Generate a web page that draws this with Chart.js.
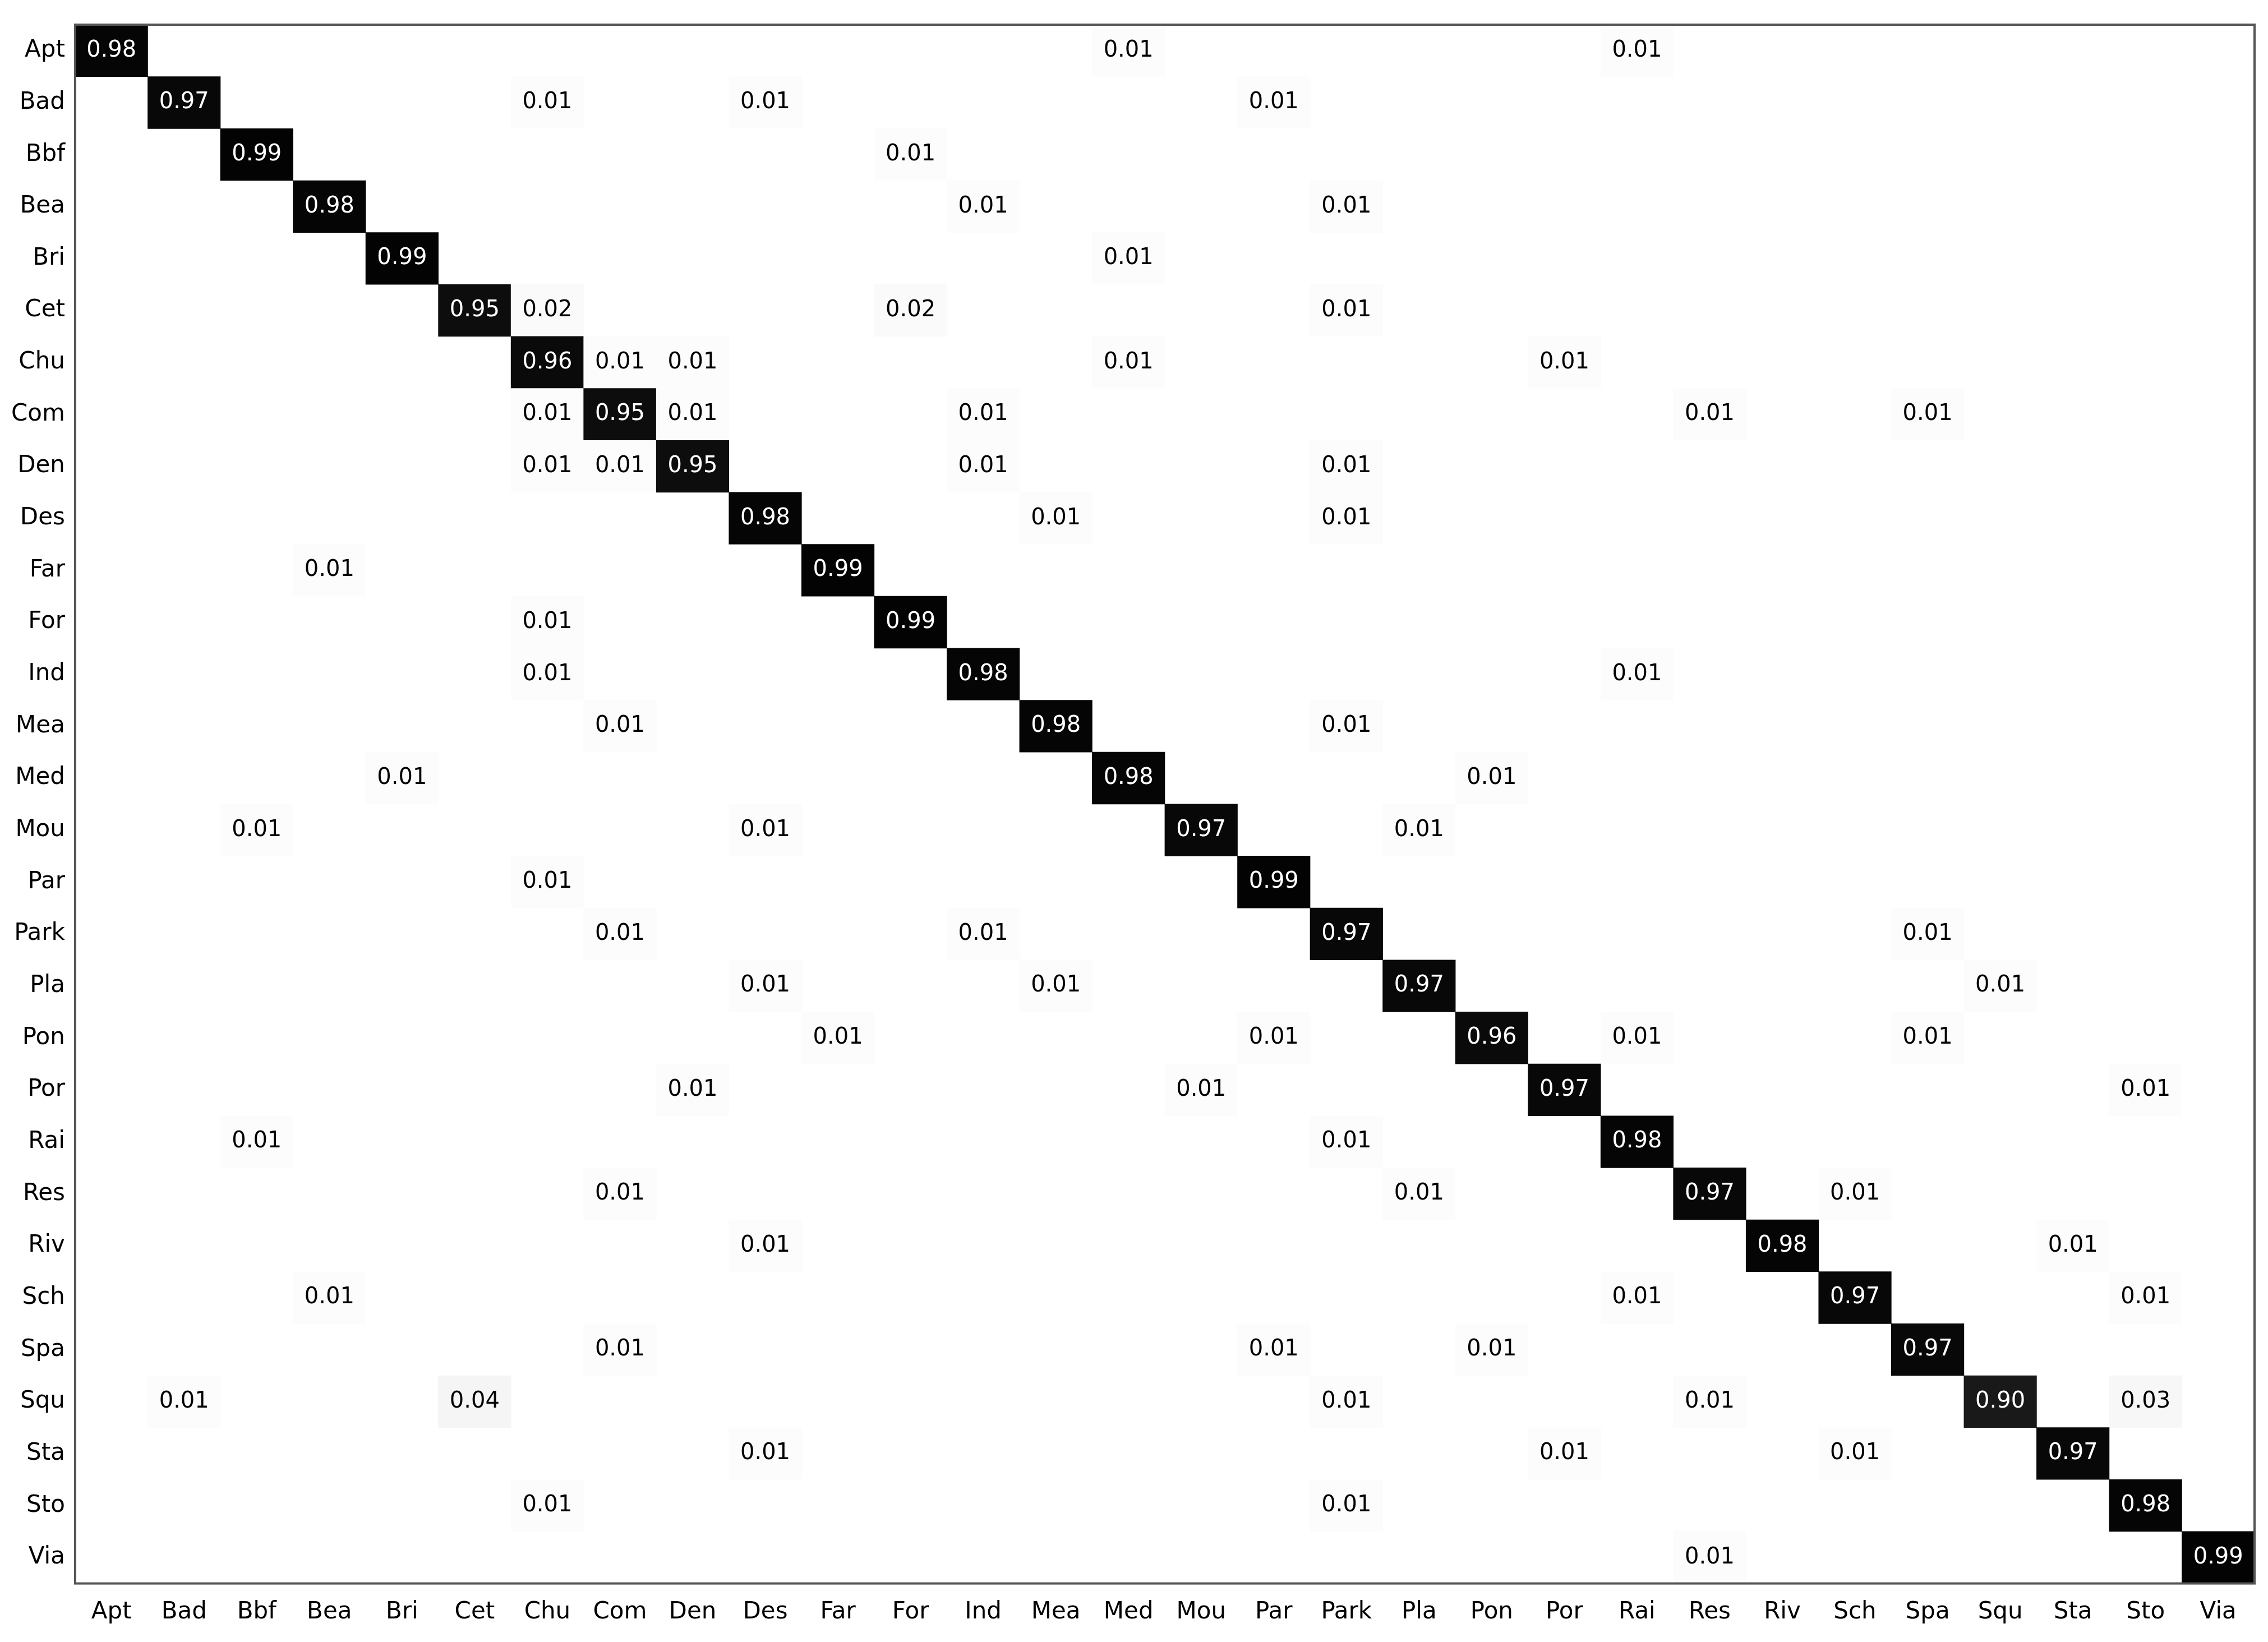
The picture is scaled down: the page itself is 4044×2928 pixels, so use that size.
<!DOCTYPE html>
<html><head><meta charset="utf-8">
<script src="https://cdn.jsdelivr.net/npm/chart.js@4"></script>
<style>html,body{margin:0;padding:0;background:#fff}</style>
</head><body>
<canvas id="c" width="4044" height="2928"></canvas>
<script>
const categories = ["Apt","Bad","Bbf","Bea","Bri","Cet","Chu","Com","Den","Des","Far","For","Ind","Mea","Med","Mou","Par","Park","Pla","Pon","Por","Rai","Res","Riv","Sch","Spa","Squ","Sta","Sto","Via"];
// each row: [columnIndex, value] pairs (true class = row)
const rowApt=[[0,.98],[14,.01],[21,.01]];
const rowBad=[[1,.97],[6,.01],[9,.01],[16,.01]];
const rowBbf=[[2,.99],[11,.01]];
const rowBea=[[3,.98],[12,.01],[17,.01]];
const rowBri=[[4,.99],[14,.01]];
const rowCet=[[5,.95],[6,.02],[11,.02],[17,.01]];
const rowChu=[[6,.96],[7,.01],[8,.01],[14,.01],[20,.01]];
const rowCom=[[6,.01],[7,.95],[8,.01],[12,.01],[22,.01],[25,.01]];
const rowDen=[[6,.01],[7,.01],[8,.95],[12,.01],[17,.01]];
const rowDes=[[9,.98],[13,.01],[17,.01]];
const rowFar=[[3,.01],[10,.99]];
const rowFor=[[6,.01],[11,.99]];
const rowInd=[[6,.01],[12,.98],[21,.01]];
const rowMea=[[7,.01],[13,.98],[17,.01]];
const rowMed=[[4,.01],[14,.98],[19,.01]];
const rowMou=[[2,.01],[9,.01],[15,.97],[18,.01]];
const rowPar=[[6,.01],[16,.99]];
const rowPark=[[7,.01],[12,.01],[17,.97],[25,.01]];
const rowPla=[[9,.01],[13,.01],[18,.97],[26,.01]];
const rowPon=[[10,.01],[16,.01],[19,.96],[21,.01],[25,.01]];
const rowPor=[[8,.01],[15,.01],[20,.97],[28,.01]];
const rowRai=[[2,.01],[17,.01],[21,.98]];
const rowRes=[[7,.01],[18,.01],[22,.97],[24,.01]];
const rowRiv=[[9,.01],[23,.98],[27,.01]];
const rowSch=[[3,.01],[21,.01],[24,.97],[28,.01]];
const rowSpa=[[7,.01],[16,.01],[19,.01],[25,.97]];
const rowSqu=[[1,.01],[5,.04],[17,.01],[22,.01],[26,.90],[28,.03]];
const rowSta=[[9,.01],[20,.01],[24,.01],[27,.97]];
const rowSto=[[6,.01],[17,.01],[28,.98]];
const rowVia=[[22,.01],[29,.99]];
const rows=[rowApt,rowBad,rowBbf,rowBea,rowBri,rowCet,rowChu,rowCom,rowDen,rowDes,rowFar,rowFor,rowInd,rowMea,rowMed,rowMou,rowPar,rowPark,rowPla,rowPon,rowPor,rowRai,rowRes,rowRiv,rowSch,rowSpa,rowSqu,rowSta,rowSto,rowVia];

const data=[];
rows.forEach((r,i)=>r.forEach(([c,v])=>data.push({x:categories[c],y:[i-0.5,i+0.5],v})));
const gray=v=>{const g=Math.round(255*(1-v));return `rgb(${g},${g},${g})`;};
const FONT="'DejaVu Sans', sans-serif";

const labelPlugin={id:'lbl',afterDatasetsDraw(chart){
  const ctx=chart.ctx, meta=chart.getDatasetMeta(0);
  ctx.save();ctx.font="40px "+FONT;ctx.textAlign='center';ctx.textBaseline='middle';
  meta.data.forEach((el,i)=>{const d=data[i];
    ctx.fillStyle=d.v>0.5?'#fff':'#000';
    ctx.fillText(d.v.toFixed(2),el.x,(el.y+el.base)/2);});
  const a=chart.chartArea;ctx.strokeStyle='#555';ctx.lineWidth=4;
  ctx.strokeRect(a.left,a.top,a.right-a.left,a.bottom-a.top);ctx.restore();}};

new Chart(document.getElementById('c'),{
  type:'bar',
  data:{labels:categories,datasets:[{data,backgroundColor:data.map(d=>gray(d.v)),borderWidth:0,barPercentage:1,categoryPercentage:1,grouped:false}]},
  options:{responsive:false,animation:false,
    layout:{padding:{top:44,right:24,left:10,bottom:10}},
    plugins:{legend:{display:false},tooltip:{enabled:false}},
    scales:{
      x:{type:'category',grid:{display:false},border:{display:false},ticks:{color:'#000',font:{size:42,family:FONT},maxRotation:0,autoSkip:false,padding:18}},
      y:{type:'linear',min:-0.5,max:29.5,reverse:true,grid:{display:false},border:{display:false},
        afterBuildTicks(ax){ax.ticks=categories.map((_,i)=>({value:i}));},
        ticks:{color:'#000',font:{size:42,family:FONT},padding:10,callback:(v)=>categories[v]}}
    }},
  plugins:[labelPlugin]
});
</script>
</body></html>
